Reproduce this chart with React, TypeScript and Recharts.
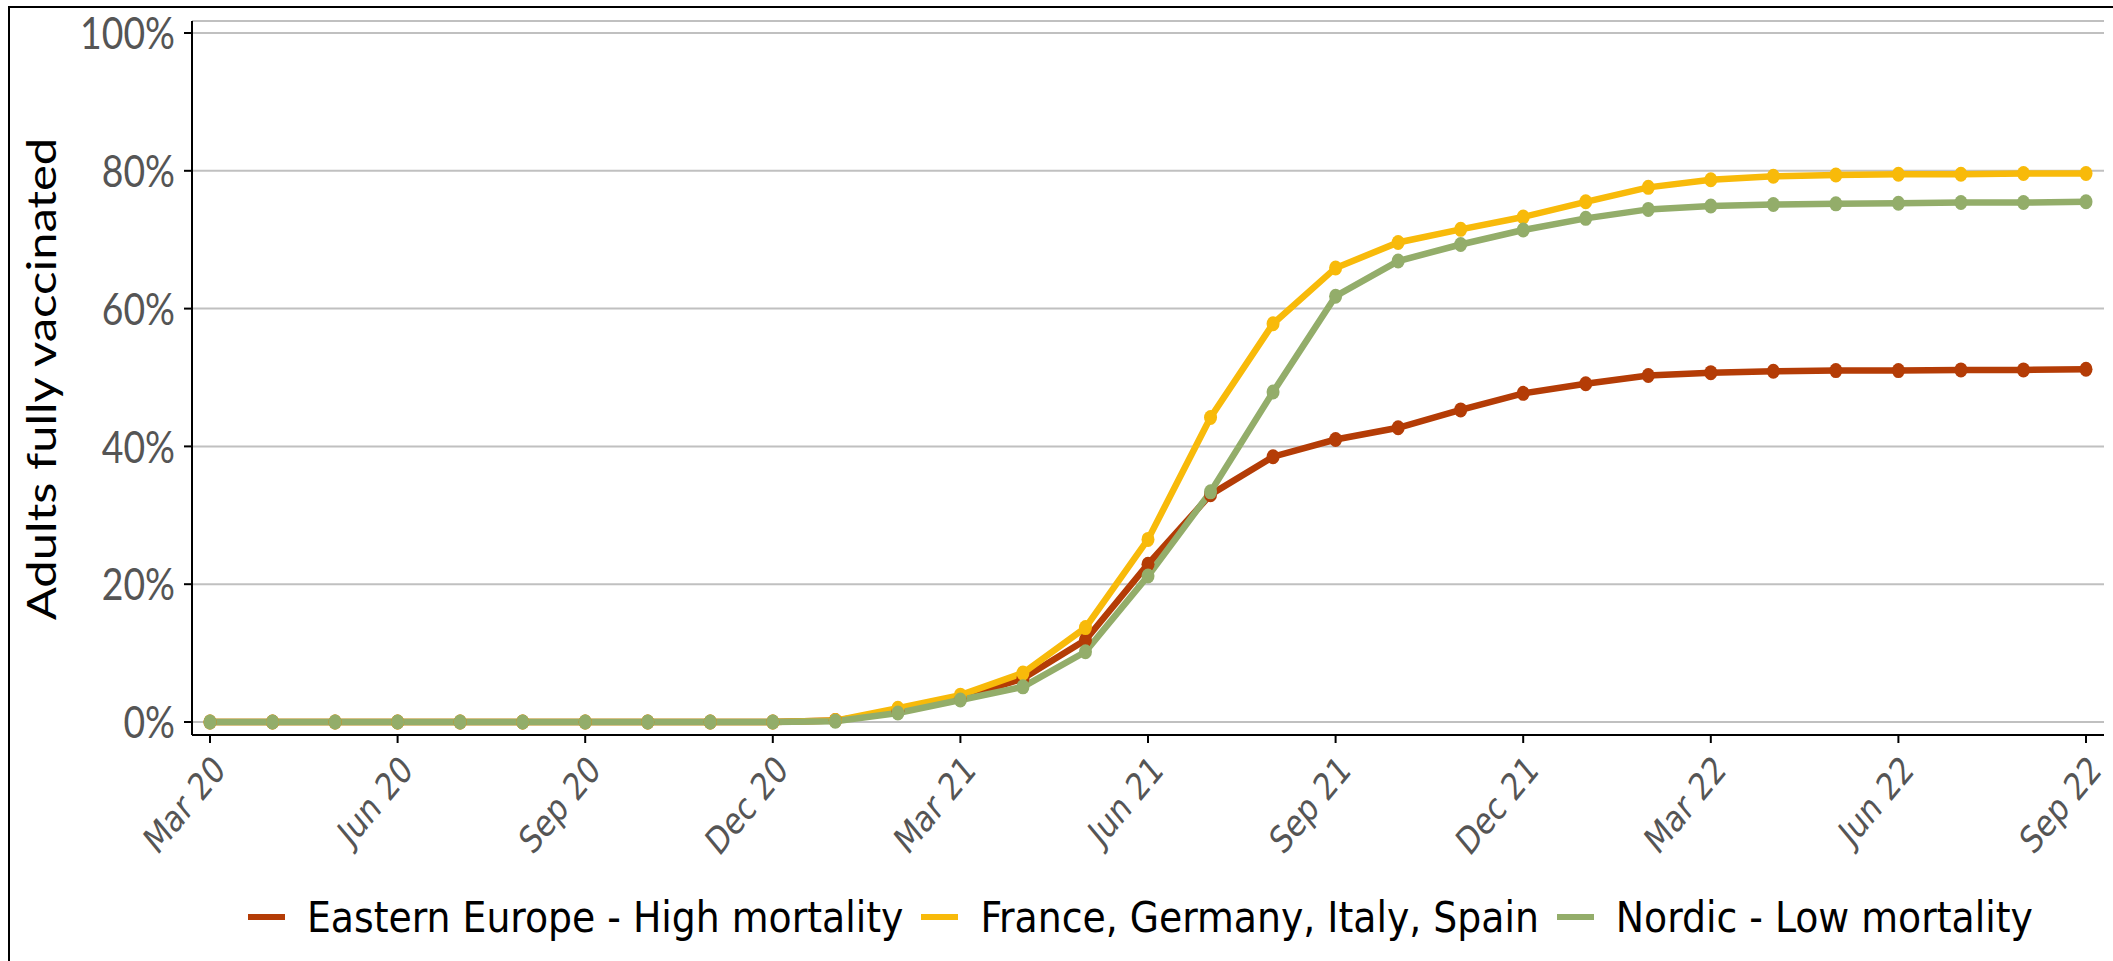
import { LineChart, Line, XAxis, YAxis, CartesianGrid } from "recharts";

const MONTHS = [
  "Mar 20", "Apr 20", "May 20", "Jun 20", "Jul 20", "Aug 20", "Sep 20", "Oct 20",
  "Nov 20", "Dec 20", "Jan 21", "Feb 21", "Mar 21", "Apr 21", "May 21", "Jun 21",
  "Jul 21", "Aug 21", "Sep 21", "Oct 21", "Nov 21", "Dec 21", "Jan 22", "Feb 22",
  "Mar 22", "Apr 22", "May 22", "Jun 22", "Jul 22", "Aug 22", "Sep 22",
];

// % of adults fully vaccinated
const EASTERN = [
  0, 0, 0, 0, 0, 0, 0, 0, 0, 0, 0.2, 1.6, 3.5, 6.3, 11.9, 22.9,
  33.0, 38.5, 41.0, 42.7, 45.3, 47.7, 49.1, 50.3, 50.7, 50.9, 51.0, 51.0, 51.1, 51.1, 51.2,
];
const BIG_FOUR = [
  0, 0, 0, 0, 0, 0, 0, 0, 0, 0, 0.2, 2.0, 3.9, 7.1, 13.7, 26.5,
  44.2, 57.8, 65.9, 69.6, 71.5, 73.3, 75.5, 77.6, 78.7, 79.2, 79.4, 79.5, 79.5, 79.6, 79.6,
];
const NORDIC = [
  0, 0, 0, 0, 0, 0, 0, 0, 0, 0, 0.1, 1.3, 3.2, 5.1, 10.2, 21.2,
  33.4, 47.9, 61.8, 66.9, 69.3, 71.4, 73.1, 74.4, 74.9, 75.1, 75.2, 75.3, 75.4, 75.4, 75.5,
];

const Y_TICKS = [0, 20, 40, 60, 80, 100];

const SERIES = [
  { key: "eastern", name: "Eastern Europe - High mortality", color: "#b43c06" },
  { key: "bigFour", name: "France, Germany, Italy, Spain", color: "#f8ba0a" },
  { key: "nordic", name: "Nordic - Low mortality", color: "#93ad6a" },
];

const data = MONTHS.map((m, i) => ({
  month: m,
  eastern: EASTERN[i],
  bigFour: BIG_FOUR[i],
  nordic: NORDIC[i],
}));

// the source image is squashed horizontally, so the text is too
const SQUEEZE = 0.83;
const NARROW = "'DejaVu Sans Condensed', 'DejaVu Sans', sans-serif";

function YTick({ x, y, payload }: any) {
  return (
    <g transform={`translate(${x},${y}) scale(${SQUEEZE},1)`}>
      <text textAnchor="end" dy="0.36em" fontFamily="Lato" fontSize={45} fill="#555">
        {payload.value}%
      </text>
    </g>
  );
}

function XTick({ x, y, payload }: any) {
  return (
    <g transform={`translate(${x + 17},${y + 29}) scale(${SQUEEZE},1) rotate(-45)`}>
      <text
        textAnchor="end"
        fontFamily={NARROW}
        fontStretch="condensed"
        fontSize={38}
        fill="#555"
      >
        {payload.value}
      </text>
    </g>
  );
}

function YLabel() {
  return (
    <text
      transform={`translate(31,371) scale(${SQUEEZE},1) rotate(-90)`}
      textAnchor="middle"
      dominantBaseline="central"
      fontFamily="Lato"
      fontSize={49}
      fill="#000"
    >
      Adults fully vaccinated
    </text>
  );
}

function Dot({ cx, cy, stroke }: any) {
  if (cx == null || cy == null) return null;
  return <ellipse cx={cx} cy={cy} rx={6.5} ry={7.5} fill={stroke} />;
}

const axisStroke = { stroke: "#000", strokeWidth: 2 };

export default function App() {
  return (
    <div
      style={{
        position: "absolute",
        left: 8,
        top: 6,
        width: 2105,
        height: 955,
        borderLeft: "2px solid #000",
        borderTop: "2px solid #000",
        boxSizing: "border-box",
        overflow: "hidden",
        background: "#fff",
      }}
    >
      <LineChart
        width={2100}
        height={860}
        data={data}
        margin={{ top: 13, right: 6, left: 0, bottom: 0 }}
      >
        <CartesianGrid vertical={false} stroke="#c0c0c0" strokeWidth={2} />
        <XAxis
          dataKey="month"
          interval={2}
          height={133}
          padding={{ left: 18, right: 18 }}
          axisLine={axisStroke}
          tickLine={axisStroke}
          tickSize={8}
          tickMargin={0}
          tick={<XTick />}
        />
        <XAxis
          xAxisId="top"
          orientation="top"
          dataKey="month"
          height={0}
          tick={false}
          tickLine={false}
          axisLine={axisStroke}
        />
        <YAxis
          domain={[0, 100]}
          ticks={Y_TICKS}
          width={182}
          padding={{ top: 12, bottom: 13 }}
          axisLine={axisStroke}
          tickLine={axisStroke}
          tickSize={8}
          tickMargin={9}
          tick={<YTick />}
          label={<YLabel />}
        />
        <YAxis
          yAxisId="right"
          orientation="right"
          width={0}
          tick={false}
          tickLine={false}
          axisLine={axisStroke}
        />
        {SERIES.map((s) => (
          <Line
            key={s.key}
            type="linear"
            dataKey={s.key}
            name={s.name}
            stroke={s.color}
            strokeWidth={6.5}
            dot={<Dot />}
            activeDot={false}
            isAnimationActive={false}
          />
        ))}
      </LineChart>

      <div
        style={{
          position: "absolute",
          left: 238,
          top: 884,
          height: 50,
          display: "flex",
          alignItems: "center",
          fontFamily: NARROW,
          fontStretch: "condensed",
          fontSize: 42,
          color: "#000",
          whiteSpace: "nowrap",
        }}
      >
        {SERIES.map((s) => (
          <div key={s.key} style={{ display: "flex", alignItems: "center", marginRight: 18 }}>
            <span style={{ width: 37, height: 6, background: s.color, marginRight: 22 }} />
            <span>{s.name}</span>
          </div>
        ))}
      </div>
    </div>
  );
}
